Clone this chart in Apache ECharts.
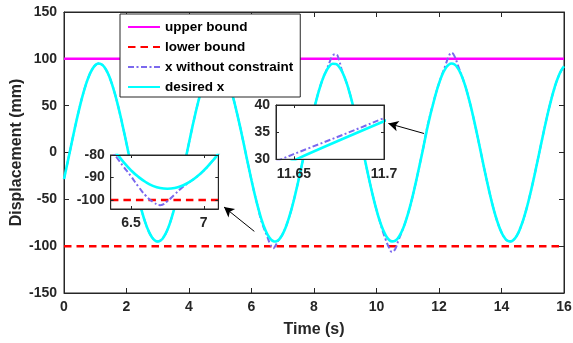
<!DOCTYPE html>
<html><head><meta charset="utf-8">
<script src="https://cdn.jsdelivr.net/npm/echarts@6/dist/echarts.min.js"></script>
<style>html,body{margin:0;padding:0;background:#fff}#c{width:573px;height:343px}</style>
</head><body><div id="c"></div>
<script>
// ---- data ----
const timeS = [
0,0.1,0.2,0.3,0.4,0.5,0.6,0.7,0.8,0.9,
1,1.1,1.2,1.3,1.4,1.5,1.6,1.7,1.8,1.9,
2,2.1,2.2,2.3,2.4,2.5,2.6,2.7,2.8,2.9,
3,3.1,3.2,3.3,3.4,3.5,3.6,3.7,3.8,3.9,
4,4.1,4.2,4.3,4.4,4.5,4.6,4.7,4.8,4.9,
5,5.1,5.2,5.3,5.4,5.5,5.6,5.7,5.8,5.9,
6,6.1,6.2,6.3,6.35,6.4,6.45,6.5,6.55,6.6,6.65,6.7,6.75,6.8,6.85,6.9,6.95,
7,7.05,7.1,7.2,7.3,7.4,7.5,7.6,7.7,7.8,7.9,
8,8.1,8.2,8.3,8.4,8.5,8.6,8.7,8.8,8.9,
9,9.1,9.2,9.3,9.4,9.5,9.6,9.7,9.8,9.9,
10,10.1,10.2,10.3,10.4,10.5,10.6,10.7,10.8,10.9,
11,11.1,11.2,11.3,11.4,11.5,11.6,11.7,11.8,11.9,
12,12.1,12.2,12.3,12.4,12.5,12.6,12.7,12.8,12.9,
13,13.1,13.2,13.3,13.4,13.5,13.6,13.7,13.8,13.9,
14,14.1,14.2,14.3,14.4,14.5,14.6,14.7,14.8,14.9,
15,15.1,15.2,15.3,15.4,15.5,15.6,15.7,15.8,15.9,
16];
const desiredX = [
-28.4,-12.9,3.0,18.8,34.0,48.2,61.2,72.5,81.7,88.6,
93.1,95.0,94.2,90.7,84.8,76.5,66.0,53.8,40.0,25.1,
9.5,-6.3,-22.0,-37.1,-51.1,-63.7,-74.6,-83.3,-89.7,-93.7,
-95.0,-93.7,-89.7,-83.2,-74.3,-63.4,-50.7,-36.5,-21.4,-5.6,
10.4,26.0,40.9,54.7,66.9,77.2,85.4,91.2,94.3,94.9,
92.8,88.1,80.9,71.5,60.1,47.0,32.7,17.4,1.6,-14.2,
-29.7,-44.3,-57.6,-69.4,-74.6,-79.2,-83.3,-86.8,-89.7,-92.0,-93.7,-94.7,-95.0,-94.7,-93.7,-92.1,-89.8,
-86.9,-83.4,-79.4,-69.6,-58.0,-44.7,-30.3,-14.9,0.8,16.5,31.7,
46.1,59.2,70.7,80.2,87.5,92.4,94.8,94.5,91.6,86.2,
78.3,68.3,56.3,42.9,28.1,12.7,-3.2,-18.9,-34.1,-48.4,
-61.3,-72.6,-81.7,-88.7,-93.1,-94.9,-94.2,-90.8,-84.9,-76.7,
-66.3,-54.2,-40.5,-25.7,-10.2,5.5,22.0,37.0,50.2,62.9,
73.8,82.7,89.3,93.4,95.0,93.9,90.1,83.8,75.1,64.3,
51.6,37.5,22.3,6.4,-9.6,-25.4,-40.4,-54.3,-66.6,-77.0,
-85.3,-91.1,-94.3,-94.9,-92.8,-88.1,-80.9,-71.5,-60.1,-47.0,
-32.7,-17.4,-1.6,14.2,29.7,44.3,57.6,69.4,79.2,86.8,
92.0];
const unconstrainedX = [
-28.4,-12.9,3.0,18.8,34.0,48.2,61.2,72.5,81.7,88.6,
93.1,95.0,94.2,90.7,84.8,76.5,66.0,53.8,40.0,25.1,
9.5,-6.3,-22.0,-37.1,-51.1,-63.7,-74.6,-83.3,-89.7,-93.7,
-95.0,-93.7,-89.7,-83.2,-74.3,-63.4,-50.7,-36.5,-21.4,-5.6,
10.4,26.0,40.9,54.7,66.9,77.2,85.4,91.2,94.3,94.9,
92.8,88.1,80.9,71.5,60.1,47.0,32.7,17.4,1.6,-14.2,
-29.7,-44.3,-57.6,-71.5,-76.5,-81.0,-85.3,-89.5,-94.0,-98.0,-100.8,-102.3,-100.5,-97.5,-94.5,-92.1,-89.8,
-86.9,-83.4,-79.4,-69.6,-58.0,-44.7,-30.3,-14.9,0.8,16.5,31.7,
46.1,59.2,70.7,80.2,88.0,96.5,103.5,105.0,98.5,87.0,
78.3,68.3,56.3,42.9,28.1,12.7,-3.2,-18.9,-34.1,-48.4,
-61.3,-72.6,-84.0,-93.5,-101.5,-106.2,-103.0,-94.0,-85.5,-76.7,
-66.3,-54.2,-40.5,-25.7,-10.2,5.5,23.5,37.6,51.0,62.9,
73.8,83.5,92.5,101.5,106.5,102.5,93.5,84.5,75.1,64.3,
51.6,37.5,22.3,6.4,-9.6,-25.4,-40.4,-54.3,-66.6,-77.0,
-85.3,-91.1,-94.3,-94.9,-92.8,-88.1,-80.9,-71.5,-60.1,-47.0,
-32.7,-17.4,-1.6,14.2,29.7,44.3,57.6,69.4,79.2,86.8,
92.0];
const boundTime = [0, 16];
const upperBound = [100, 100];
const lowerBound = [-100, -100];
const seriesNames = ['upper bound', 'lower bound', 'x without constraint', 'desired x'];
const inset1XTicks = [6.5, 7];
const inset1YTicks = [-100, -90, -80];
const inset2XTicks = [11.65, 11.7];
const inset2YTicks = [30, 35, 40];
const arrowFromTo = [[[6.09, -84.2], [5.12, -58.2]], [[11.52, 20.3], [10.38, 31.0]]];

// ---- build ----
const FONT = '"Liberation Sans", Arial, Helvetica, sans-serif';
const AX = '#262626';
const pairs = (xs, ys) => xs.map((t, i) => [t, ys[i]]);
const desiredData = pairs(timeS, desiredX);
const unconData = pairs(timeS, unconstrainedX);
const upperData = pairs(boundTime, upperBound);
const lowerData = pairs(boundTime, lowerBound);

const styles = {
  upper: {color: '#FF00FF', width: 2.5, type: 'solid'},
  lower: {color: '#FF0000', width: 2.5, type: [7.5, 5]},
  uncon: {color: '#7B68EE', width: 2, type: [6, 2.5, 2, 2.5]},
  desired: {color: '#00FFFF', width: 2.6, type: 'solid'}
};

function mkAxis(grid, position, min, max, interval, ticks, showLabel, z, tickLen, margin) {
  const a = {
    type: 'value', gridIndex: grid, position: position, min: min, max: max, z: z,
    axisLine: {show: true, onZero: false, lineStyle: {color: AX, width: 1}},
    axisTick: {show: true, inside: true, length: tickLen, lineStyle: {color: AX, width: 1}},
    axisLabel: {show: showLabel, color: AX, fontFamily: FONT, fontWeight: 'bold', fontSize: 14, margin: margin,
      showMinLabel: true, showMaxLabel: true, hideOverlap: false},
    splitLine: {show: false}
  };
  if (interval != null) a.interval = interval;
  if (ticks) { a.axisLabel.customValues = ticks; a.axisTick.customValues = ticks; }
  return a;
}

function line(name, data, st, xi, yi, z, smooth) {
  return {
    type: 'line', name: name, data: data, xAxisIndex: xi, yAxisIndex: yi, z: z,
    smooth: smooth, showSymbol: false, symbol: 'none', clip: true, silent: true,
    lineStyle: {color: st.color, width: st.width, type: st.type, cap: 'butt'},
    itemStyle: {color: st.color}
  };
}

const xAxes = [
  Object.assign(mkAxis(0, 'bottom', 0, 16, 2, null, true, 1, 5, 7), {
    name: 'Time (s)', nameLocation: 'middle', nameGap: 29, nameMoveOverlap: false,
    nameTextStyle: {color: AX, fontFamily: FONT, fontWeight: 'bold', fontSize: 16}
  }),
  mkAxis(0, 'top', 0, 16, 2, null, false, 1, 5, 7),
  mkAxis(1, 'bottom', 6.36, 7.1, null, inset1XTicks, true, 7, 3, 7),
  mkAxis(1, 'top', 6.36, 7.1, null, inset1XTicks, false, 7, 3, 7),
  mkAxis(2, 'bottom', 11.64, 11.7, null, inset2XTicks, true, 7, 3, 8),
  mkAxis(2, 'top', 11.64, 11.7, null, inset2XTicks, false, 7, 3, 8)
];
const yAxes = [
  Object.assign(mkAxis(0, 'left', -150, 150, 50, null, true, 1, 5, 7), {
    name: 'Displacement (mm)', nameLocation: 'middle', nameGap: 39, nameRotate: 90, nameMoveOverlap: false,
    nameTextStyle: {color: AX, fontFamily: FONT, fontWeight: 'bold', fontSize: 16}
  }),
  mkAxis(0, 'right', -150, 150, 50, null, false, 1, 5, 7),
  mkAxis(1, 'left', -104, -80, null, inset1YTicks, true, 7, 3, 6),
  mkAxis(1, 'right', -104, -80, null, inset1YTicks, false, 7, 3, 6),
  mkAxis(2, 'left', 30, 40, 5, inset2YTicks, true, 7, 3, 6),
  mkAxis(2, 'right', 30, 40, 5, inset2YTicks, false, 7, 3, 6)
];

const upperSeries = line(seriesNames[0], upperData, styles.upper, 0, 0, 2, false);
upperSeries.markLine = {
  silent: true, symbol: ['none', 'arrow'], symbolSize: [8, 10], animation: false,
  label: {show: false}, emphasis: {disabled: true},
  lineStyle: {color: '#000', width: 1, type: 'solid'},
  data: arrowFromTo.map(a => [{coord: a[0]}, {coord: a[1]}])
};

const series = [
  upperSeries,
  line(seriesNames[1], lowerData, styles.lower, 0, 0, 2, false),
  line(seriesNames[2], unconData, styles.uncon, 0, 0, 2, true),
  line(seriesNames[3], desiredData, styles.desired, 0, 0, 2, true),
  line(seriesNames[1], lowerData, styles.lower, 2, 2, 6, false),
  line(seriesNames[2], unconData, styles.uncon, 2, 2, 6, true),
  line(seriesNames[3], desiredData, styles.desired, 2, 2, 6, true),
  line(seriesNames[2], unconData, styles.uncon, 4, 4, 6, true),
  line(seriesNames[3], desiredData, styles.desired, 4, 4, 6, true)
];

const chart = echarts.init(document.getElementById('c'), null, {renderer: 'canvas'});
chart.setOption({
  animation: false,
  backgroundColor: '#fff',
  grid: [
    {left: 64, right: 9, top: 12, bottom: 50, show: true, backgroundColor: '#fff', borderColor: AX, borderWidth: 1, z: 0, containLabel: false, outerBoundsMode: 'none'},
    {left: 110.7, top: 155, width: 107.6, height: 54, show: true, backgroundColor: '#fff', borderColor: AX, borderWidth: 1, z: 5, containLabel: false, outerBoundsMode: 'none'},
    {left: 276, top: 105, width: 108, height: 54.3, show: true, backgroundColor: '#fff', borderColor: AX, borderWidth: 1, z: 5, containLabel: false, outerBoundsMode: 'none'}
  ],
  legend: {
    data: seriesNames, orient: 'vertical', left: 120, top: 14, z: 10,
    padding: [6, 7, 3, 7], itemGap: 6, itemWidth: 32, itemHeight: 14,
    backgroundColor: '#fff', borderColor: AX, borderWidth: 1, borderRadius: 0,
    selectedMode: false,
    itemStyle: {opacity: 0},
    textStyle: {color: '#000', fontFamily: FONT, fontWeight: 'bold', fontSize: 13.5, lineHeight: 14}
  },
  xAxis: xAxes,
  yAxis: yAxes,
  series: series
});
</script>
</body></html>
